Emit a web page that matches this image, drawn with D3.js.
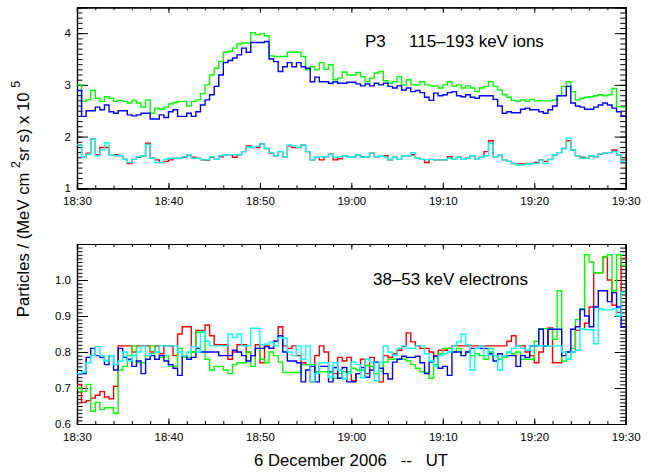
<!DOCTYPE html>
<html>
<head>
<meta charset="utf-8">
<script src="https://cdn.jsdelivr.net/npm/d3@7"></script>
<style>
  body { margin: 0; background: #fff; }
  text { font-family: "Liberation Sans", Arial, Helvetica, sans-serif; fill: #000; white-space: pre; }
</style>
</head>
<body>
<div id="chart"></div>
<script>
// 30 s bins starting 18:30 UT, 6 Dec 2006
var startTime = Date.UTC(2006, 11, 6, 18, 30);
var binMs = 30000;

// P3 115-193 keV ions (x 10^5)
var ionsGreen = [
  3.0, 2.68, 2.71, 2.89, 2.74, 2.68, 2.77, 2.74, 2.68, 2.70,
  2.68, 2.65, 2.70, 2.65, 2.57, 2.71, 2.45, 2.55, 2.53, 2.57,
  2.63, 2.66, 2.68, 2.68, 2.59, 2.68, 2.71, 2.83, 3.0, 3.19,
  3.32, 3.45, 3.63, 3.65, 3.71, 3.79, 3.81, 3.81, 4.01, 3.97,
  3.99, 3.95, 3.56, 3.55, 3.55, 3.55, 3.63, 3.63, 3.63, 3.55,
  3.29, 3.35, 3.29, 3.43, 3.30, 3.39, 3.10, 3.13, 3.25, 3.19,
  3.19, 3.24, 3.16, 3.06, 3.13, 3.23, 3.26, 3.08, 3.03, 3.06,
  3.16, 3.0, 3.10, 3.0, 3.0, 3.06, 3.0, 2.98, 2.98, 2.94,
  3.0, 3.06, 2.97, 3.0, 2.94, 2.98, 2.94, 2.87, 2.94, 2.97,
  3.06, 2.97, 2.90, 2.81, 2.76, 2.70, 2.68, 2.71, 2.68, 2.72,
  2.69, 2.69, 2.69, 2.69, 2.71, 2.79, 2.97, 3.06, 2.87, 2.71,
  2.74, 2.76, 2.77, 2.79, 2.81, 2.79, 2.81, 2.93, 2.58, 2.57
];
var ionsBlue = [
  2.89, 2.39, 2.50, 2.50, 2.57, 2.52, 2.61, 2.48, 2.45, 2.50,
  2.50, 2.42, 2.40, 2.42, 2.45, 2.45, 2.34, 2.34, 2.42, 2.37,
  2.48, 2.52, 2.39, 2.39, 2.45, 2.39, 2.48, 2.61, 2.71, 2.81,
  2.97, 3.19, 3.43, 3.47, 3.52, 3.58, 3.71, 3.63, 3.82, 3.82,
  3.82, 3.84, 3.50, 3.45, 3.26, 3.35, 3.43, 3.35, 3.43, 3.35,
  3.32, 3.06, 3.15, 3.06, 3.06, 3.03, 3.06, 3.03, 3.03, 3.05,
  3.05, 3.02, 2.98, 3.02, 2.98, 3.03, 3.00, 3.03, 2.97, 2.94,
  2.98, 2.90, 2.94, 2.87, 2.89, 2.85, 2.76, 2.70, 2.84, 2.79,
  2.81, 2.85, 2.87, 2.79, 2.77, 2.81, 2.76, 2.74, 2.79, 2.79,
  2.79, 2.72, 2.59, 2.45, 2.48, 2.46, 2.46, 2.53, 2.55, 2.52,
  2.52, 2.48, 2.45, 2.52, 2.59, 2.79, 2.79, 2.97, 2.65, 2.59,
  2.57, 2.53, 2.53, 2.57, 2.61, 2.65, 2.61, 2.55, 2.48, 2.40
];
var ionsRed = [
  1.84, 1.61, 1.68, 1.95, 1.65, 1.79, 1.79, 1.65, 1.65, 1.63,
  1.56, 1.48, 1.56, 1.60, 1.63, 1.87, 1.58, 1.55, 1.50, 1.52,
  1.55, 1.58, 1.58, 1.60, 1.65, 1.60, 1.58, 1.55, 1.54, 1.60,
  1.56, 1.61, 1.65, 1.65, 1.60, 1.65, 1.71, 1.82, 1.79, 1.79,
  1.86, 1.77, 1.68, 1.63, 1.71, 1.61, 1.82, 1.79, 1.79, 1.84,
  1.71, 1.55, 1.60, 1.55, 1.61, 1.66, 1.55, 1.57, 1.63, 1.60,
  1.61, 1.65, 1.61, 1.61, 1.68, 1.61, 1.63, 1.63, 1.55, 1.60,
  1.56, 1.63, 1.63, 1.65, 1.58, 1.56, 1.50, 1.56, 1.55, 1.55,
  1.55, 1.61, 1.56, 1.60, 1.56, 1.58, 1.63, 1.56, 1.60, 1.71,
  1.92, 1.61, 1.65, 1.55, 1.52, 1.48, 1.47, 1.47, 1.48, 1.48,
  1.50, 1.55, 1.52, 1.56, 1.65, 1.69, 1.77, 1.92, 1.74, 1.63,
  1.60, 1.58, 1.63, 1.61, 1.66, 1.68, 1.69, 1.74, 1.65, 1.55
];
var ionsCyan = [
  1.84, 1.61, 1.66, 1.95, 1.63, 1.74, 1.88, 1.65, 1.63, 1.63,
  1.56, 1.50, 1.56, 1.61, 1.63, 1.85, 1.58, 1.50, 1.50, 1.56,
  1.58, 1.58, 1.58, 1.61, 1.65, 1.58, 1.58, 1.55, 1.55, 1.61,
  1.56, 1.63, 1.65, 1.65, 1.65, 1.65, 1.71, 1.80, 1.79, 1.81,
  1.86, 1.77, 1.69, 1.63, 1.71, 1.61, 1.84, 1.82, 1.79, 1.84,
  1.71, 1.55, 1.60, 1.61, 1.61, 1.66, 1.60, 1.61, 1.63, 1.60,
  1.61, 1.65, 1.60, 1.61, 1.68, 1.61, 1.63, 1.60, 1.55, 1.60,
  1.56, 1.63, 1.63, 1.69, 1.58, 1.56, 1.55, 1.56, 1.55, 1.55,
  1.55, 1.58, 1.56, 1.60, 1.56, 1.58, 1.63, 1.56, 1.60, 1.63,
  1.87, 1.61, 1.65, 1.55, 1.52, 1.48, 1.45, 1.45, 1.47, 1.48,
  1.48, 1.55, 1.48, 1.56, 1.65, 1.69, 1.77, 1.97, 1.74, 1.63,
  1.58, 1.58, 1.63, 1.61, 1.66, 1.68, 1.69, 1.71, 1.65, 1.52
];

// 38-53 keV electrons (x 10^5)
var elecGreen = [
  0.70, 0.69, 0.71, 0.635, 0.66, 0.64, 0.645, 0.645, 0.63, 0.75,
  0.76, 0.79, 0.817, 0.77, 0.77, 0.79, 0.817, 0.80, 0.785, 0.79,
  0.76, 0.76, 0.81, 0.785, 0.785, 0.80, 0.855, 0.855, 0.78, 0.75,
  0.76, 0.76, 0.75, 0.74, 0.765, 0.77, 0.77, 0.80, 0.76, 0.81,
  0.78, 0.77, 0.80, 0.79, 0.772, 0.743, 0.743, 0.743, 0.743, 0.765,
  0.765, 0.765, 0.745, 0.745, 0.745, 0.743, 0.727, 0.74, 0.745, 0.745,
  0.755, 0.75, 0.75, 0.763, 0.76, 0.74, 0.747, 0.772, 0.78, 0.78,
  0.78, 0.78, 0.775, 0.765, 0.755, 0.745, 0.743, 0.727, 0.765, 0.795,
  0.81, 0.81, 0.80, 0.81, 0.79, 0.80, 0.79, 0.795, 0.79, 0.78,
  0.80, 0.79, 0.78, 0.785, 0.80, 0.795, 0.80, 0.78, 0.78, 0.78,
  0.83, 0.865, 0.865, 0.865, 0.835, 0.97, 0.775, 0.78, 0.81, 0.89,
  0.92, 1.07, 1.05, 1.02, 1.02, 1.064, 1.07, 0.97, 1.07, 1.04
];
var elecRed = [
  0.71, 0.66, 0.665, 0.672, 0.68, 0.69, 0.675, 0.67, 0.705, 0.817,
  0.817, 0.817, 0.80, 0.817, 0.817, 0.817, 0.80, 0.817, 0.795, 0.817,
  0.817, 0.79, 0.85, 0.87, 0.87, 0.80, 0.86, 0.86, 0.875, 0.845,
  0.82, 0.82, 0.82, 0.78, 0.80, 0.82, 0.82, 0.80, 0.79, 0.82,
  0.77, 0.817, 0.81, 0.83, 0.87, 0.817, 0.81, 0.817, 0.79, 0.77,
  0.765, 0.717, 0.79, 0.817, 0.80, 0.745, 0.74, 0.785, 0.775, 0.785,
  0.72, 0.74, 0.78, 0.74, 0.785, 0.74, 0.717, 0.79, 0.785, 0.795,
  0.805, 0.815, 0.853, 0.828, 0.817, 0.81, 0.81, 0.80, 0.79, 0.805,
  0.805, 0.81, 0.817, 0.817, 0.817, 0.817, 0.817, 0.817, 0.817, 0.817,
  0.817, 0.817, 0.817, 0.817, 0.83, 0.845, 0.817, 0.817, 0.80, 0.79,
  0.77, 0.80, 0.817, 0.867, 0.77, 0.77, 0.79, 0.80, 0.80, 0.86,
  0.865, 0.88, 0.925, 1.02, 1.02, 1.064, 1.0, 0.93, 0.91, 1.06
];
var elecBlue = [
  0.74, 0.74, 0.785, 0.81, 0.79, 0.785, 0.765, 0.79, 0.75, 0.81,
  0.785, 0.78, 0.76, 0.775, 0.74, 0.78, 0.79, 0.78, 0.79, 0.775,
  0.765, 0.755, 0.735, 0.79, 0.78, 0.785, 0.81, 0.80, 0.80, 0.80,
  0.80, 0.79, 0.79, 0.79, 0.805, 0.80, 0.79, 0.775, 0.79, 0.81,
  0.81, 0.815, 0.81, 0.83, 0.845, 0.80, 0.775, 0.775, 0.77, 0.717,
  0.75, 0.76, 0.717, 0.76, 0.76, 0.717, 0.757, 0.727, 0.757, 0.717,
  0.717, 0.74, 0.757, 0.73, 0.75, 0.772, 0.755, 0.74, 0.725, 0.772,
  0.78, 0.788, 0.785, 0.785, 0.788, 0.77, 0.74, 0.772, 0.788, 0.755,
  0.76, 0.735, 0.80, 0.80, 0.79, 0.80, 0.81, 0.81, 0.81, 0.81,
  0.795, 0.775, 0.795, 0.79, 0.79, 0.79, 0.76, 0.79, 0.785, 0.817,
  0.817, 0.863, 0.817, 0.863, 0.863, 0.863, 0.79, 0.80, 0.863, 0.87,
  0.918, 0.90, 0.87, 0.925, 0.97, 0.97, 0.94, 0.965, 0.925, 0.87
];
var elecCyan = [
  0.74, 0.745, 0.77, 0.79, 0.815, 0.79, 0.775, 0.79, 0.765, 0.775,
  0.80, 0.775, 0.79, 0.80, 0.817, 0.79, 0.795, 0.80, 0.817, 0.817,
  0.817, 0.817, 0.80, 0.79, 0.80, 0.815, 0.80, 0.857, 0.83, 0.817,
  0.817, 0.817, 0.817, 0.85, 0.84, 0.85, 0.817, 0.817, 0.866, 0.866,
  0.82, 0.822, 0.827, 0.817, 0.84, 0.838, 0.80, 0.79, 0.817, 0.78,
  0.817, 0.717, 0.74, 0.77, 0.77, 0.73, 0.77, 0.75, 0.725, 0.74,
  0.772, 0.765, 0.728, 0.78, 0.772, 0.72, 0.772, 0.817, 0.80, 0.79,
  0.81, 0.817, 0.81, 0.81, 0.817, 0.817, 0.795, 0.775, 0.762, 0.79,
  0.795, 0.80, 0.817, 0.828, 0.85, 0.82, 0.75, 0.81, 0.817, 0.79,
  0.81, 0.79, 0.75, 0.79, 0.80, 0.81, 0.817, 0.81, 0.805, 0.817,
  0.817, 0.817, 0.817, 0.817, 0.817, 0.817, 0.80, 0.78, 0.80, 0.805,
  0.865, 0.862, 0.862, 0.823, 0.92, 0.917, 0.917, 0.92, 0.90, 0.966
];

var yTicksTop = [1, 2, 3, 4];
var yTicksBottom = [0.6, 0.7, 0.8, 0.9, 1.0];

var svg = d3.select("#chart").append("svg")
  .attr("width", 654)
  .attr("height", 474);

var x = d3.scaleUtc()
  .domain([new Date(startTime), new Date(startTime + 3600000)])
  .range([77, 625.7]);

var majorTimes = d3.utcMinute.every(10).range(x.domain()[0], new Date(startTime + 3600001));
var minorTimes = d3.utcMinute.every(2).range(x.domain()[0], new Date(startTime + 3600001));

//draw one panel: frame, mirrored ticks, step lines
function drawPanel(id, top, bottom, yDomain, majors, minorStep, fmt, series) {
  var y = d3.scaleLinear().domain(yDomain).range([bottom, top]);
  var g = svg.append("g");

  g.append("clipPath").attr("id", id)
    .append("rect")
    .attr("x", x.range()[0]).attr("y", top)
    .attr("width", x.range()[1] - x.range()[0]).attr("height", bottom - top);

  var minors = d3.range(yDomain[0], yDomain[1] + minorStep / 2, minorStep);

  // x axes (bottom with labels, top mirrored)
  g.append("g").attr("transform", "translate(0," + bottom + ")")
    .call(d3.axisBottom(x).tickValues(minorTimes).tickSize(-3).tickFormat(""));
  g.append("g").attr("transform", "translate(0," + bottom + ")")
    .call(d3.axisBottom(x).tickValues(majorTimes).tickSize(-5.5).tickPadding(9)
      .tickFormat(d3.utcFormat("%H:%M")));
  g.append("g").attr("transform", "translate(0," + top + ")")
    .call(d3.axisTop(x).tickValues(minorTimes).tickSize(-3).tickFormat(""));
  g.append("g").attr("transform", "translate(0," + top + ")")
    .call(d3.axisTop(x).tickValues(majorTimes).tickSize(-5.5).tickFormat(""));

  // y axes (left with labels, right mirrored)
  g.append("g").attr("transform", "translate(" + x.range()[0] + ",0)")
    .call(d3.axisLeft(y).tickValues(minors).tickSize(-5.5).tickFormat(""));
  g.append("g").attr("transform", "translate(" + x.range()[0] + ",0)")
    .call(d3.axisLeft(y).tickValues(majors).tickSize(-11).tickPadding(6).tickFormat(fmt));
  g.append("g").attr("transform", "translate(" + x.range()[1] + ",0)")
    .call(d3.axisRight(y).tickValues(minors).tickSize(-5.5).tickFormat(""));
  g.append("g").attr("transform", "translate(" + x.range()[1] + ",0)")
    .call(d3.axisRight(y).tickValues(majors).tickSize(-11).tickFormat(""));

  g.selectAll(".domain").attr("stroke", "#000").attr("stroke-width", 1.2);
  g.selectAll(".tick line").attr("stroke", "#000");
  g.selectAll(".tick text").attr("font-size", 11.5)
    .attr("font-family", "'Liberation Sans', Arial, sans-serif").attr("fill", "#000");

  var line = d3.line()
    .x(function(d) { return x(d[0]); })
    .y(function(d) { return y(d[1]); })
    .curve(d3.curveStepAfter);

  series.forEach(function(s) {
    var pts = s.values.map(function(v, i) { return [new Date(startTime + i * binMs), v]; });
    pts.push([new Date(startTime + s.values.length * binMs), s.values[s.values.length - 1]]);
    g.append("path")
      .attr("clip-path", "url(#" + id + ")")
      .attr("d", line(pts))
      .attr("fill", "none")
      .attr("stroke", s.color)
      .attr("stroke-width", 1.4);
  });
  return g;
}

drawPanel("clipTop", 7.3, 188.3, [1, 4.5], yTicksTop, 0.1, d3.format("d"), [
  { values: ionsGreen, color: "#00ff00" },
  { values: ionsBlue, color: "#0000ff" },
  { values: ionsRed, color: "#ff0000" },
  { values: ionsCyan, color: "#00ffff" }
]);

drawPanel("clipBottom", 244, 424, [0.6, 1.1], yTicksBottom, 0.01, d3.format(".1f"), [
  { values: elecRed, color: "#ff0000" },
  { values: elecGreen, color: "#00ff00" },
  { values: elecBlue, color: "#0000ff" },
  { values: elecCyan, color: "#00ffff" }
]);

// panel annotations
svg.append("text").attr("x", 365).attr("y", 47).attr("font-size", 17).text("P3");
svg.append("text").attr("x", 409).attr("y", 47).attr("font-size", 17).text("115\u2013193 keV ions");
svg.append("text").attr("x", 373).attr("y", 285).attr("font-size", 17).text("38\u201353 keV electrons");

// x title
svg.append("text").attr("x", 351).attr("y", 466).attr("font-size", 16.7)
  .attr("text-anchor", "middle")
  .text("6 December 2006   --   UT");

// y title with superscripts
var yt = svg.append("text")
  .attr("transform", "translate(28.5,199) rotate(-90)")
  .attr("text-anchor", "middle")
  .attr("font-size", 16.7);
yt.append("tspan").text("Particles / (MeV cm ");
yt.append("tspan").attr("dy", -9).attr("font-size", 12.5).text("2");
yt.append("tspan").attr("dy", 9).text("sr s) x 10 ");
yt.append("tspan").attr("dy", -9).attr("font-size", 12.5).text("5");
</script>
</body>
</html>
